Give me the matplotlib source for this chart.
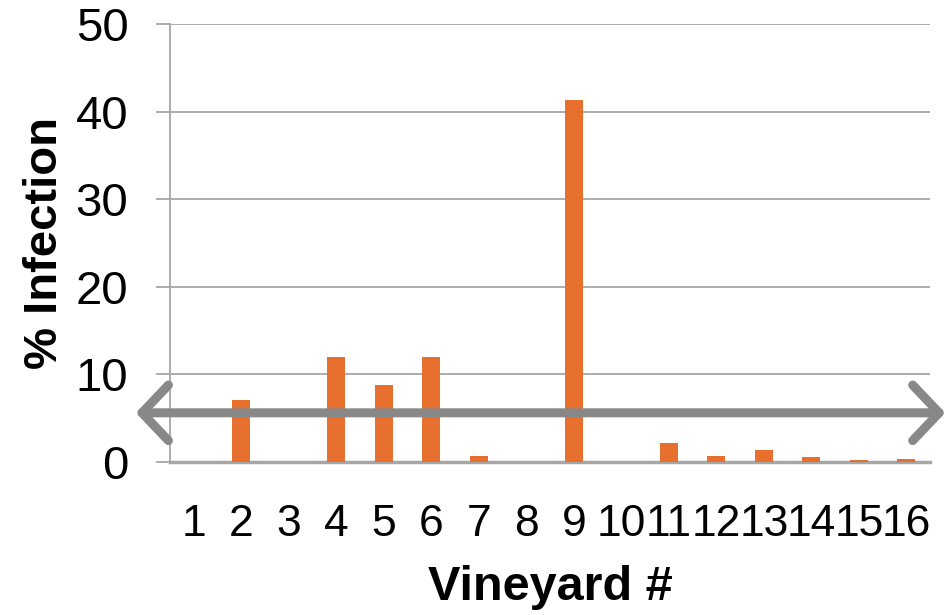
import matplotlib
matplotlib.use("Agg")
import matplotlib.pyplot as plt

vineyards = [str(i) for i in range(1, 17)]
infection = [0, 7.1, 0, 12.0, 8.8, 12.0, 0.7, 0, 41.3, 0, 2.1, 0.7, 1.3, 0.55, 0.2, 0.35]
threshold = 5.6
y_ticks = [0, 10, 20, 30, 40, 50]

plt.rcParams['font.family'] = ['Liberation Sans', 'DejaVu Sans']

fig = plt.figure(figsize=(9.52, 6.15), dpi=100)
ax = fig.add_axes([0.1786, 0.249, 0.7984, 0.712])

x = list(range(1, 17))
ax.bar(x, infection, width=0.38, color='#E8702E', zorder=3)

ax.set_xlim(0.5, 16.5)
ax.set_ylim(0, 50)
ax.set_yticks(y_ticks)
ax.set_xticks(x)
ax.set_xticklabels(vineyards)
ax.yaxis.grid(True, color='#A6A6A6', lw=1.3, zorder=0)
for s in ['top', 'right']:
    ax.spines[s].set_visible(False)
ax.spines['left'].set_color('#A6A6A6')
ax.spines['left'].set_linewidth(1.3)
ax.spines['bottom'].set_visible(False)
ax.axhline(0, color='#A6A6A6', lw=2.5, zorder=2, clip_on=False)
ax.tick_params(axis='y', length=10, width=1.3, color='#A6A6A6', labelsize=34, pad=20)
ax.tick_params(axis='x', length=0, labelsize=32, pad=30)

ax.set_ylabel('% Infection', fontsize=34, fontweight='bold', labelpad=6)
ax.set_xlabel('Vineyard #', fontsize=35, fontweight='bold', labelpad=15)

ax.annotate('', xy=(-0.22, threshold), xytext=(16.82, threshold),
            xycoords='data', textcoords='data', annotation_clip=False,
            arrowprops=dict(arrowstyle='<->,head_length=1.9,head_width=2.0',
                            color='#888888', lw=6.5, mutation_scale=10,
                            shrinkA=0, shrinkB=0), zorder=5)

fig.savefig('out.png', dpi=100)
